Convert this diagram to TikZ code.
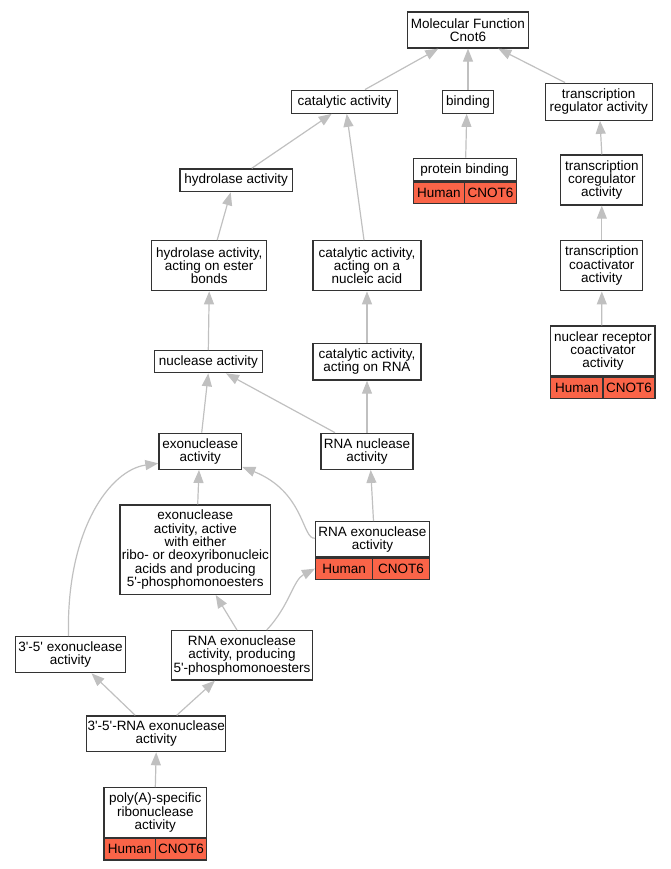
\documentclass[tikz,border=0pt]{standalone}
\usepackage{fontspec}
\setmainfont{Liberation Sans}
\usepackage{tikz}
\usetikzlibrary{calc}
\usetikzlibrary{arrows.meta}
\definecolor{edgegray}{HTML}{C0C0C0}
\definecolor{genefill}{HTML}{FA6448}
\definecolor{boxline}{HTML}{333333}
\newcommand{\pr}{\textquotesingle}
\begin{document}
\begin{tikzpicture}[x=1pt,y=-1pt,
    term/.style={draw=boxline,line width=1.3pt,fill=white,align=center,inner sep=1pt,
      font=\fontsize{13.5}{13.3}\selectfont},
    gene/.style={draw=boxline,line width=1.3pt,fill=genefill,inner sep=1pt,
      minimum height=21.3pt,font=\fontsize{13.5}{13.3}\selectfont},
    isa/.style={draw=edgegray,line width=1.2pt,-{Triangle[length=13pt,width=10pt]}}]
      \useasboundingbox (0,0) rectangle (671,869);
      \node[term,minimum width=121pt,minimum height=36pt] (mf) at (468,30) {Molecular Function\\Cnot6};
      \node[term,minimum width=106pt,minimum height=23pt] (cat) at (344.5,101.7) {catalytic activity};
      \node[term,minimum width=51pt,minimum height=23pt] (bind) at (468,101.7) {binding};
      \node[term,minimum width=107pt,minimum height=37pt] (treg) at (598.7,101.7) {transcription\\regulator activity};
      \node[term,minimum width=103pt,minimum height=22.7pt] (pb) at (464.7,169.7) {protein binding};
        \node[gene,anchor=north west,minimum width=51.5pt] (pbH) at (pb.south west) {Human};
        \node[gene,anchor=north east,minimum width=51.5pt] (pbC) at (pb.south east) {CNOT6};
      \node[term,minimum width=82pt,minimum height=50pt] (tcoreg) at (601.8,180) {transcription\\coregulator\\activity};
      \node[term,minimum width=112.3pt,minimum height=22.7pt] (hydro) at (236.2,180.3) {hydrolase activity};
      \node[term,minimum width=115pt,minimum height=50pt] (hester) at (209.2,265.7) {hydrolase activity,\\acting on ester\\bonds};
      \node[term,minimum width=108pt,minimum height=50pt] (catna) at (367,265.7) {catalytic activity,\\acting on a\\nucleic acid};
      \node[term,minimum width=82pt,minimum height=50pt] (tcoact) at (601.8,265.8) {transcription\\coactivator\\activity};
      \node[term,minimum width=104.3pt,minimum height=50pt] (nrc) at (602.9,351) {nuclear receptor\\coactivator\\activity};
        \node[gene,anchor=north west,minimum width=52.15pt] (nrcH) at (nrc.south west) {Human};
        \node[gene,anchor=north east,minimum width=52.15pt] (nrcC) at (nrc.south east) {CNOT6};
      \node[term,minimum width=108pt,minimum height=22pt] (nuc) at (208.3,361.7) {nuclease activity};
      \node[term,minimum width=108pt,minimum height=36.7pt] (catrna) at (367,361.7) {catalytic activity,\\acting on RNA};
      \node[term,minimum width=82.7pt,minimum height=36pt] (exo) at (200.3,451.3) {exonuclease\\activity};
      \node[term,minimum width=92pt,minimum height=36pt] (rnanuc) at (367,451.3) {RNA nuclease\\activity};
      \node[term,minimum width=150.7pt,minimum height=89.3pt] (exoany) at (195.3,549.7) {exonuclease\\activity, active\\with either\\ribo- or deoxyribonucleic\\acids and producing\\5\pr-phosphomonoesters};
      \node[term,minimum width=113.7pt,minimum height=35pt] (rnaexo) at (372.5,539.2) {RNA exonuclease\\activity};
        \node[gene,anchor=north west,minimum width=56.85pt] (rnaexoH) at (rnaexo.south west) {Human};
        \node[gene,anchor=north east,minimum width=56.85pt] (rnaexoC) at (rnaexo.south east) {CNOT6};
      \node[term,minimum width=110pt,minimum height=36pt] (exo35) at (70.5,654.7) {3\pr-5\pr{} exonuclease\\activity};
      \node[term,minimum width=140.6pt,minimum height=49.3pt] (rnaexo5p) at (242,655.3) {RNA exonuclease\\activity, producing\\5\pr-phosphomonoesters};
      \node[term,minimum width=139pt,minimum height=35.7pt] (rna35) at (156.2,733.8) {3\pr-5\pr-RNA exonuclease\\activity};
      \node[term,minimum width=102.7pt,minimum height=49.6pt] (polya) at (155.3,812.5) {poly(A)-specific\\ribonuclease\\activity};
        \node[gene,anchor=north west,minimum width=51.35pt] (polyaH) at (polya.south west) {Human};
        \node[gene,anchor=north east,minimum width=51.35pt] (polyaC) at (polya.south east) {CNOT6};
      \draw[isa] ($(cat.north)+(20.5,0)$) -- ($(mf.south)+(-29.7,0)$);
      \draw[isa] (bind.north) -- (mf.south);
      \draw[isa] ($(treg.north)+(-33.7,0)$) -- ($(mf.south)+(30.3,0)$);
      \draw[isa] ($(pb.north)+(1,0)$) -- ($(bind.south)+(-1.3,0)$);
      \draw[isa] (tcoreg.north) -- ($(treg.south)+(1.3,0)$);
      \draw[isa] (tcoact.north) -- (tcoreg.south);
      \draw[isa] ($(nrc.north)+(-1.1,0)$) -- (tcoact.south);
      \draw[isa] ($(hydro.north)+(15.5,0)$) -- ($(cat.south)+(-12.8,0)$);
      \draw[isa] ($(catna.north)+(-3,0)$) -- ($(cat.south)+(2.2,0)$);
      \draw[isa] ($(hester.north)+(8,0)$) -- ($(hydro.south)+(-5.5,0)$);
      \draw[isa] (catrna.north) -- (catna.south);
      \draw[isa] (nuc.north) -- (hester.south);
      \draw[isa] ($(exo.north)+(1.4,0)$) -- (nuc.south);
      \draw[isa] ($(rnanuc.north)+(-32,0)$) -- ($(nuc.south)+(17.7,0)$);
      \draw[isa] (rnanuc.north) -- (catrna.south);
      \draw[isa] ($(rnaexo.north)+(1,0)$) -- ($(rnanuc.south)+(3.7,0)$);
      \draw[isa] ($(rnaexo.west)+(0,-1)$) .. controls (302,540) and (305,492) .. ($(exo.south east)+(0,-3)$);
      \draw[isa] ($(exoany.north)+(2.4,0)$) -- ($(exo.south)+(-1.3,0)$);
      \draw[isa] ($(exo35.north)+(-2,0)$) .. controls (66,530) and (110,470) .. ($(exo.west)+(0,12)$);
      \draw[isa] ($(rnaexo5p.north)+(-5,0)$) -- ($(exoany.south)+(20.4,0)$);
      \draw[isa] ($(rnaexo5p.north)+(24.7,0)$) .. controls (290,605) and (293,580) .. (rnaexoH.west);
      \draw[isa] ($(rna35.north)+(-21,0)$) -- ($(exo35.south)+(21,0)$);
      \draw[isa] ($(rna35.north)+(20.5,0)$) -- ($(rnaexo5p.south)+(-27,0)$);
      \draw[isa] (polya.north) -- (rna35.south);
    \end{tikzpicture}
\end{document}
